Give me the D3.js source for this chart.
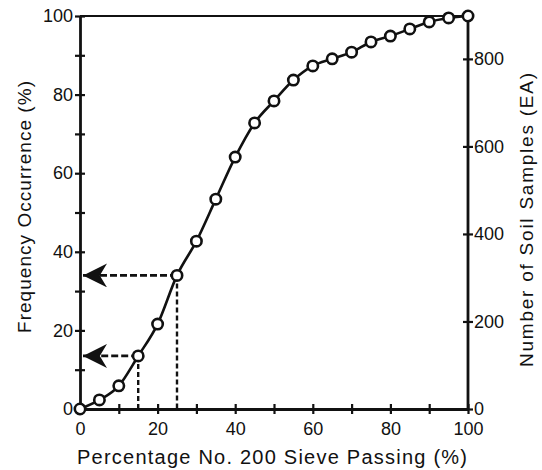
<!DOCTYPE html>
<html>
<head>
<meta charset="utf-8">
<script src="https://cdn.jsdelivr.net/npm/d3@7"></script>
<style>
  body { margin: 0; background: #fff; }
  svg { display: block; }
  text { font-family: "Liberation Sans", Arial, sans-serif; fill: #111; }
</style>
</head>
<body>
<div id="chart"></div>
<script>
// data
const passing = [0, 5, 10, 15, 20, 25, 30, 35, 40, 45, 50, 55, 60, 65, 70, 75, 80, 85, 90, 95, 100];
const frequency = [0, 2.3, 5.9, 13.5, 21.6, 34.0, 42.7, 53.4, 64.1, 72.8, 78.4, 83.7, 87.3, 89.1, 90.8, 93.4, 94.9, 96.7, 98.5, 99.5, 100];
const arrowAt = [15, 25];
const xTicks = [0, 10, 20, 30, 40, 50, 60, 70, 80, 90, 100];
const xLabels = [0, 20, 40, 60, 80, 100];
const yTicks = [0, 10, 20, 30, 40, 50, 60, 70, 80, 90, 100];
const yLabels = [0, 20, 40, 60, 80, 100];
const countTicks = [0, 200, 400, 600, 800];
const totalSamples = 898;

const W = 542, H = 470;
const margin = { top: 16, right: 74, bottom: 61, left: 80 };
const iw = W - margin.left - margin.right;
const ih = H - margin.top - margin.bottom;

const svg = d3.select("#chart").append("svg").attr("width", W).attr("height", H);

// arrow head (barbed)
svg.append("defs").append("marker")
  .attr("id", "head")
  .attr("viewBox", "0 0 20 20")
  .attr("refX", 20).attr("refY", 10)
  .attr("markerWidth", 24).attr("markerHeight", 24)
  .attr("markerUnits", "userSpaceOnUse")
  .attr("orient", "auto")
  .append("path")
  .attr("d", "M0,0 L20,10 L0,20 L6,10 Z")
  .attr("fill", "#111");

const g = svg.append("g").attr("transform", `translate(${margin.left},${margin.top})`);

const x = d3.scaleLinear().domain([0, 100]).range([0, iw]);
const y = d3.scaleLinear().domain([0, 100]).range([ih, 0]);
const yR = d3.scaleLinear().domain([0, totalSamples]).range([ih, 0]);

// frame top line
g.append("line")
  .attr("x1", 0).attr("x2", iw).attr("y1", 0).attr("y2", 0)
  .attr("stroke", "#111").attr("stroke-width", 2.2);

function crossTicks(sel, horiz, len) {
  sel.selectAll(".tick line")
    .attr("stroke", "#111").attr("stroke-width", 2.2);
  if (horiz) sel.selectAll(".tick line").attr("y1", -len).attr("y2", len);
  else sel.selectAll(".tick line").attr("x1", -len).attr("x2", len);
  sel.select(".domain").attr("stroke", "#111").attr("stroke-width", 2.8);
}

// bottom axis
const xAxis = g.append("g").attr("transform", `translate(0,${ih})`)
  .call(d3.axisBottom(x).tickValues(xTicks).tickSizeOuter(0)
    .tickFormat(d => xLabels.includes(d) ? d : ""));
crossTicks(xAxis, true, 5);
xAxis.selectAll("text").attr("y", 13).attr("font-size", 18).attr("dy", "0.71em");

// left axis
const yAxis = g.append("g")
  .call(d3.axisLeft(y).tickValues(yTicks).tickSizeOuter(0)
    .tickFormat(d => yLabels.includes(d) ? d : ""));
crossTicks(yAxis, false, 5);
yAxis.selectAll("text").attr("x", -7).attr("font-size", 18);

// right axis
const rAxis = g.append("g").attr("transform", `translate(${iw},0)`)
  .call(d3.axisRight(yR).tickValues(countTicks).tickSizeOuter(0));
crossTicks(rAxis, false, 5);
rAxis.selectAll("text").attr("x", 6).attr("font-size", 18);
rAxis.select(".domain").attr("d", `M0,${ih}V0`);

// axis titles
svg.append("text")
  .attr("x", margin.left + iw / 2 - 2).attr("y", 464)
  .attr("text-anchor", "middle").attr("font-size", 20)
  .attr("textLength", 390).attr("lengthAdjust", "spacing")
  .text("Percentage No. 200 Sieve Passing (%)");

svg.append("text")
  .attr("transform", "translate(31,207) rotate(-90)")
  .attr("text-anchor", "middle").attr("font-size", 19)
  .attr("textLength", 252).attr("lengthAdjust", "spacing")
  .text("Frequency Occurrence (%)");

svg.append("text")
  .attr("transform", "translate(533,220) rotate(-90)")
  .attr("text-anchor", "middle").attr("font-size", 19)
  .attr("textLength", 294).attr("lengthAdjust", "spacing")
  .text("Number of Soil Samples (EA)");

// guide lines
arrowAt.forEach(p => {
  const v = frequency[passing.indexOf(p)];
  g.append("line")
    .attr("x1", x(p)).attr("x2", x(p)).attr("y1", y(v)).attr("y2", y(0))
    .attr("stroke", "#111").attr("stroke-width", 2.4).attr("stroke-dasharray", "5,3");
  g.append("line")
    .attr("x1", x(p)).attr("x2", x(0) + 3).attr("y1", y(v)).attr("y2", y(v))
    .attr("stroke", "#111").attr("stroke-width", 2.8).attr("stroke-dasharray", "7,3")
    .attr("marker-end", "url(#head)");
});

// curve
const pts = passing.map((p, i) => [p, frequency[i]]);
g.append("path")
  .datum(pts)
  .attr("fill", "none").attr("stroke", "#111").attr("stroke-width", 2.6)
  .attr("d", d3.line().x(d => x(d[0])).y(d => y(d[1])).curve(d3.curveMonotoneX));

g.selectAll("circle.pt")
  .data(pts)
  .join("circle")
  .attr("class", "pt")
  .attr("cx", d => x(d[0])).attr("cy", d => y(d[1]))
  .attr("r", 5.2)
  .attr("fill", "#fff").attr("stroke", "#111").attr("stroke-width", 2.6);
</script>
</body>
</html>
